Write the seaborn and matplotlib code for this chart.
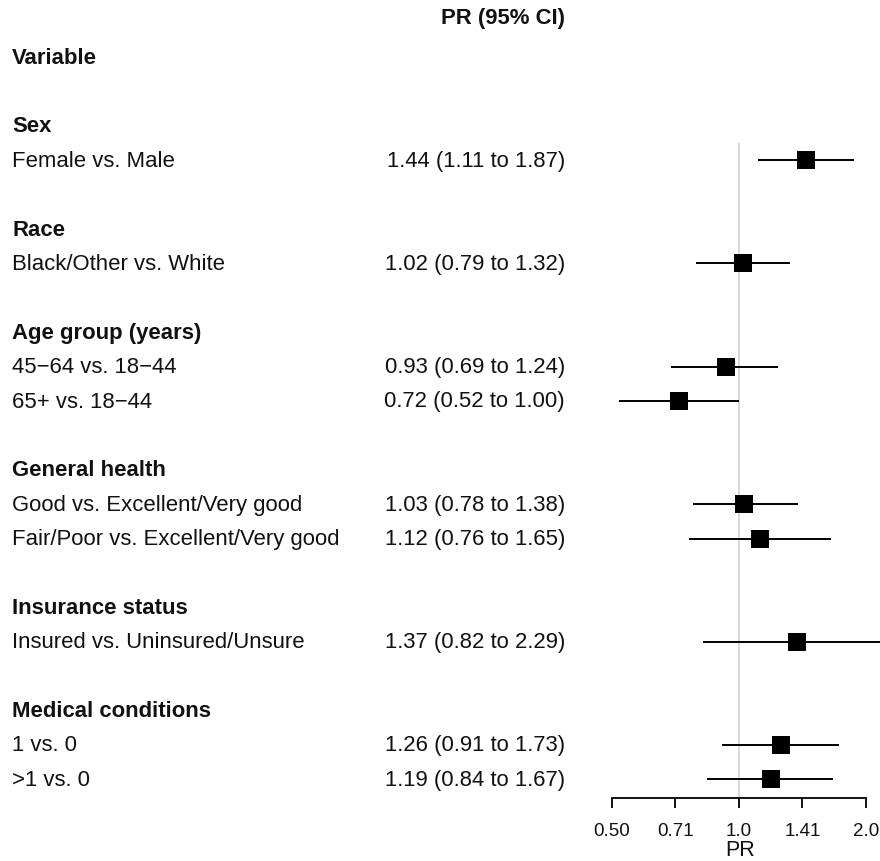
import numpy as np
import pandas as pd
import matplotlib
matplotlib.use("Agg")
import matplotlib.pyplot as plt
import matplotlib.transforms as mtransforms
import seaborn as sns

sns.set_style("white")
plt.rcParams['font.family'] = ['Liberation Sans', 'DejaVu Sans']
plt.rcParams['text.color'] = '#111111'
plt.rcParams['xtick.color'] = 'black'
plt.rcParams['xtick.labelcolor'] = '#111111'
plt.rcParams['axes.labelcolor'] = '#111111'

# ---- data ----
groups = ["Sex", "Race", "Age group (years)", "General health",
          "Insurance status", "Medical conditions"]
comparisons = ["Female vs. Male", "Black/Other vs. White",
               "45\u221264 vs. 18\u221244", "65+ vs. 18\u221244",
               "Good vs. Excellent/Very good", "Fair/Poor vs. Excellent/Very good",
               "Insured vs. Uninsured/Unsure", "1 vs. 0", ">1 vs. 0"]
group_index = [0, 1, 2, 2, 3, 3, 4, 5, 5]
pr = [1.44, 1.02, 0.93, 0.72, 1.03, 1.12, 1.37, 1.26, 1.19]
lower = [1.11, 0.79, 0.69, 0.52, 0.78, 0.76, 0.82, 0.91, 0.84]
upper = [1.87, 1.32, 1.24, 1.00, 1.38, 1.65, 2.29, 1.73, 1.67]
tick_values = [0.5, 0.7071, 1.0, 1.4142, 2.0]
tick_labels = ["0.50", "0.71", "1.0", "1.41", "2.0"]

# ---- row layout ----
rows_heading = {}
rows_item = []
r = 2
for g in range(len(groups)):
    rows_heading[g] = r
    r += 1
    for i, gi in enumerate(group_index):
        if gi == g:
            rows_item.append(r)
            r += 1
    r += 1

df = pd.DataFrame({"label": comparisons, "pr": pr, "lower": lower,
                   "upper": upper, "row": rows_item})

W, H = 880, 862
fig = plt.figure(figsize=(W / 100, H / 100), dpi=100)
ax_left, ax_right = 600, 880
ax_bottom_px = 799
ax = fig.add_axes([ax_left / W, (H - ax_bottom_px) / H,
                   (ax_right - ax_left) / W, ax_bottom_px / H])

row0_px, row_step = 58, 34.4
y_top = -row0_px / row_step
y_bot = (ax_bottom_px - row0_px) / row_step

ax.set_xscale("log", base=2)
x_lo = 2 ** ((ax_left - 739) / 127)
x_hi = 2 ** ((ax_right - 739) / 127)
ax.set_xlim(x_lo, x_hi)
ax.set_ylim(y_bot, y_top)

# reference line
ax.vlines(1.0, rows_heading[0] + 0.5, y_bot, color="#d9d9d9", lw=1.5, zorder=1)
# CI lines
ax.hlines(df["row"], df["lower"], df["upper"], color="black", lw=1.4, zorder=2)
# squares
sns.scatterplot(data=df, x="pr", y="row", marker="s", s=185, color="black",
                edgecolor="black", linewidth=0, ax=ax, zorder=3, legend=False)

for s in ["top", "right", "left"]:
    ax.spines[s].set_visible(False)
ax.spines["bottom"].set_bounds(0.5, 2.0)
ax.spines["bottom"].set_linewidth(1.3)
ax.spines["bottom"].set_color("black")
ax.set_xticks(tick_values)
ax.set_xticklabels(tick_labels)
ax.minorticks_off()
ax.set_yticks([])
ax.tick_params(axis="x", direction="out", length=7, width=1.3, color="black",
               labelsize=13.5, pad=10.5, bottom=True)
ax.set_xlabel("PR", fontsize=15.5, labelpad=0)
ax.set_ylabel("")

trans = mtransforms.blended_transform_factory(fig.transFigure, ax.transData)
fs = 15.9
text_x = 12 / W
val_x = 565 / W
ax.text(val_x, (18 - row0_px) / row_step, "PR (95% CI)", transform=trans,
        fontsize=fs, fontweight="bold", ha="right", va="center", clip_on=False)
ax.text(text_x, 0, "Variable", transform=trans, fontsize=fs,
        fontweight="bold", ha="left", va="center", clip_on=False)
for g, name in enumerate(groups):
    ax.text(text_x, rows_heading[g], name, transform=trans, fontsize=fs,
            fontweight="bold", ha="left", va="center", clip_on=False)
for _, row in df.iterrows():
    ax.text(text_x, row["row"], row["label"], transform=trans, fontsize=fs,
            ha="left", va="center", clip_on=False)
    ax.text(val_x, row["row"],
            f"{row['pr']:.2f} ({row['lower']:.2f} to {row['upper']:.2f})",
            transform=trans, fontsize=fs, ha="right", va="center", clip_on=False)

fig.savefig("out.png", dpi=100)
